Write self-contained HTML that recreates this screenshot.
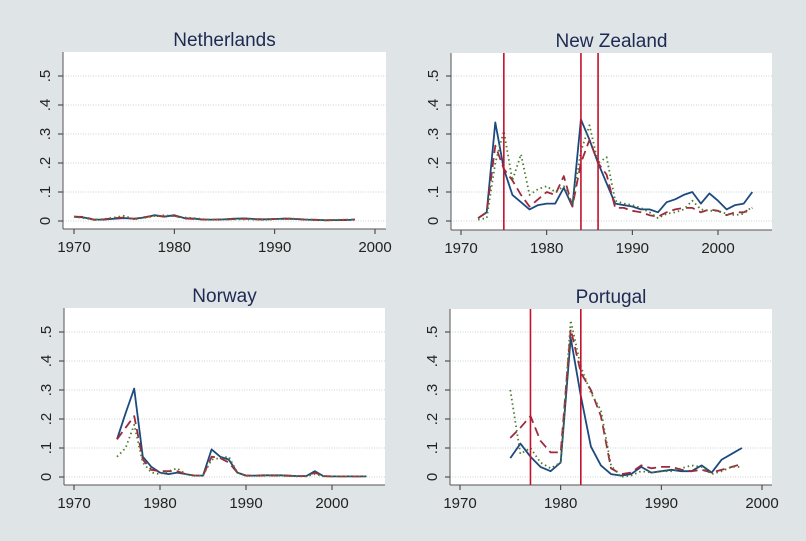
<!DOCTYPE html>
<html><head><meta charset="utf-8">
<style>
html,body{margin:0;padding:0;}
body{width:806px;height:541px;overflow:hidden;background:#dfe4e6;font-family:"Liberation Sans",sans-serif;}
svg{position:absolute;left:0;top:0;}
</style></head><body>
<svg id="chart" width="806" height="541" xmlns="http://www.w3.org/2000/svg"></svg>
<script>
const nlYears=[1970,1971,1972,1973,1974,1975,1976,1977,1978,1979,1980,1981,1982,1983,1984,1985,1986,1987,1988,1989,1990,1991,1992,1993,1994,1995,1996,1997,1998];
const nlBlue=[.015,.012,.005,.005,.008,.01,.008,.012,.02,.015,.02,.01,.008,.005,.005,.006,.008,.009,.007,.006,.007,.008,.007,.005,.004,.003,.003,.003,.005];
const nlRed=[.015,.014,.004,.006,.01,.012,.007,.013,.018,.016,.018,.009,.007,.005,.005,.005,.007,.008,.006,.005,.007,.008,.008,.005,.004,.002,.003,.004,.005];
const nlGreen=[.015,.01,.004,.007,.012,.018,.006,.011,.017,.02,.017,.012,.01,.006,.004,.006,.006,.006,.005,.004,.006,.009,.008,.006,.005,.002,.004,.004,.006];
const nzYears=[1972,1973,1974,1975,1976,1977,1978,1979,1980,1981,1982,1983,1984,1985,1986,1987,1988,1989,1990,1991,1992,1993,1994,1995,1996,1997,1998,1999,2000,2001,2002,2003,2004];
const nzBlue=[.01,.03,.34,.18,.09,.065,.04,.055,.06,.06,.115,.05,.35,.28,.2,.13,.06,.055,.05,.04,.04,.03,.065,.075,.09,.1,.06,.095,.07,.04,.055,.06,.1];
const nzRed=[.01,.03,.26,.18,.14,.09,.05,.075,.1,.09,.155,.05,.2,.28,.2,.16,.045,.045,.035,.03,.02,.015,.03,.04,.045,.045,.03,.04,.035,.02,.03,.03,.045];
const nzGreen=[.005,.01,.2,.31,.14,.23,.09,.11,.12,.1,.12,.06,.24,.33,.2,.22,.07,.06,.055,.045,.03,.01,.025,.03,.04,.07,.04,.035,.035,.025,.02,.025,.05];
const nzBreaks=[1975,1984,1986];
const noYears=[1975,1976,1977,1978,1979,1980,1981,1982,1983,1984,1985,1986,1987,1988,1989,1990,1991,1992,1993,1994,1995,1996,1997,1998,1999,2000,2001,2002,2003,2004];
const noBlue=[.13,.22,.305,.07,.035,.015,.01,.015,.01,.005,.005,.095,.07,.06,.015,.005,.005,.006,.006,.006,.005,.003,.003,.02,.003,.002,.002,.002,.002,.002];
const noRed=[.13,.17,.21,.06,.025,.02,.02,.02,.01,.005,.005,.07,.065,.05,.015,.005,.004,.005,.005,.005,.004,.003,.003,.015,.003,.002,.002,.002,.002,.002];
const noGreen=[.07,.1,.18,.05,.015,.01,.02,.03,.01,.005,.005,.06,.065,.07,.015,.004,.004,.005,.006,.005,.004,.002,.002,.01,.002,.002,.002,.002,.002,.002];
const ptYears=[1975,1976,1977,1978,1979,1980,1981,1982,1983,1984,1985,1986,1987,1988,1989,1990,1991,1992,1993,1994,1995,1996,1997,1998];
const ptBlue=[.065,.115,.07,.035,.02,.05,.48,.28,.105,.04,.01,.005,.01,.035,.015,.02,.025,.02,.02,.04,.015,.06,.08,.1];
const ptRed=[.135,.17,.21,.125,.085,.085,.51,.36,.3,.21,.03,.01,.015,.04,.03,.035,.035,.025,.02,.025,.015,.025,.035,.045];
const ptGreen=[.3,.08,.1,.05,.03,.05,.54,.38,.29,.23,.04,0,.005,.02,.015,.02,.02,.03,.04,.035,.01,.02,.035,.035];
const ptBreaks=[1977,1982];
const yTicks=[0,.1,.2,.3,.4,.5];
const yTickLabels=["0",".1",".2",".3",".4",".5"];
const xTicks=[1970,1980,1990,2000];

const svg=document.getElementById('chart');
const NS="http://www.w3.org/2000/svg";
function mk(tag,attrs,parent){const e=document.createElementNS(NS,tag);for(const k in attrs)e.setAttribute(k,attrs[k]);(parent||svg).appendChild(e);return e;}

const panels=[
 {name:'netherlands',title:'Netherlands',L:63,R:386,T:52,B:229,x0:74,x1:375,y0:221,y5:76,yr:nlYears,s:[nlBlue,nlRed,nlGreen],br:[]},
 {name:'new-zealand',title:'New Zealand',L:451,R:772,T:53,B:230,x0:461,x1:718,y0:221,y5:76,yr:nzYears,s:[nzBlue,nzRed,nzGreen],br:nzBreaks},
 {name:'norway',title:'Norway',L:64,R:385,T:308,B:485,x0:74,x1:332,y0:477,y5:332,yr:noYears,s:[noBlue,noRed,noGreen],br:[]},
 {name:'portugal',title:'Portugal',L:450,R:772,T:309,B:485,x0:460,x1:762,y0:477,y5:332,yr:ptYears,s:[ptBlue,ptRed,ptGreen],br:ptBreaks}
];
const styles=[
 {c:'#1c4a7e',d:'',w:1.8,n:'blue-solid'},
 {c:'#9e2a3e',d:'9,5',w:1.8,n:'red-dashed'},
 {c:'#4e7a2e',d:'1.5,3',w:1.8,n:'green-dotted'}
];
panels.forEach(p=>{
 const g=mk('g',{});
 
 
 const xs=v=>p.x0+(v-1970)/30*(p.x1-p.x0);
 const ys=v=>p.y0-v/0.5*(p.y0-p.y5);
 const bg=mk('rect',{x:p.L,y:p.T,width:p.R-p.L,height:p.B-p.T,fill:'#fff'},g);
 
 
 const t=mk('text',{x:(p.L+p.R)/2,y:p.T-6,'text-anchor':'middle','font-size':'19',fill:'#1e2a52'},g);
 t.textContent=p.title;
 
 
 yTicks.forEach((v,i)=>{
  const y=ys(v);
  const gl=mk('line',{x1:p.L,x2:p.R,y1:y,y2:y,stroke:'#c8d4d8','stroke-width':1,'stroke-dasharray':'1,1.5'},g);
  
  
  mk('line',{x1:p.L-5,x2:p.L,y1:y,y2:y,stroke:'#333','stroke-width':1},g);
  const lb=mk('text',{x:0,y:0,transform:`translate(${p.L-13},${y}) rotate(-90)`,'text-anchor':'middle','font-size':'15',fill:'#222'},g);
  lb.textContent=yTickLabels[i];
  
  
 });
 xTicks.forEach(v=>{
  const x=xs(v);
  mk('line',{x1:x,x2:x,y1:p.B,y2:p.B+5,stroke:'#333','stroke-width':1},g);
  const lb=mk('text',{x:x,y:p.B+23,'text-anchor':'middle','font-size':'15',fill:'#222'},g);
  lb.textContent=v;
  
  
 });
 mk('line',{x1:p.L,x2:p.L,y1:p.T,y2:p.B,stroke:'#555','stroke-width':1},g);
 mk('line',{x1:p.L,x2:p.R,y1:p.B,y2:p.B,stroke:'#555','stroke-width':1},g);
 p.s.forEach((arr,k)=>{
  const st=styles[k];
  const d=arr.map((v,i)=>(i?'L':'M')+xs(p.yr[i]).toFixed(1)+','+ys(v).toFixed(1)).join(' ');
  const pa=mk('path',{d:d,fill:'none',stroke:st.c,'stroke-width':st.w,'stroke-dasharray':st.d,'stroke-linejoin':'round'},g);
  
  
 });
 p.br.forEach(v=>{
  const x=xs(v);
  const bl=mk('line',{x1:x,x2:x,y1:p.T,y2:p.B,stroke:'#c4102c','stroke-width':1.6},g);
  
  
 });
});
</script>
</body></html>
